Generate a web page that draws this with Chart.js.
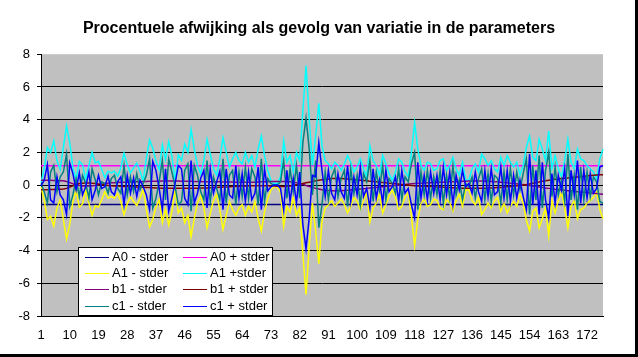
<!DOCTYPE html>
<html>
<head>
<meta charset="utf-8">
<script src="https://cdn.jsdelivr.net/npm/chart.js@4"></script>
<style>
html,body{margin:0;padding:0;background:#fff;}
canvas{display:block;}
</style>
</head>
<body>
<canvas id="c" width="638" height="357" style="width:638px;height:357px"></canvas>
<script>
const categories = Array.from({length: 177}, (_, i) => String(i + 1));
const yTicks = [-8, -6, -4, -2, 0, 2, 4, 6, 8];
const seriesNames = ["A0 - stder", "A0 + stder", "A1 - stder", "A1 +stder", "b1 - stder", "b1 + stder", "c1 - stder", "c1 + stder"];

const a0Minus = [
-1.18,-1.18,-1.18,-1.18,-1.18,-1.18,-1.18,-1.18,-1.18,-1.18,-1.18,-1.18,-1.18,-1.18,-1.18,-1.18,-1.18,-1.18,-1.18,-1.18,
-1.18,-1.18,-1.18,-1.18,-1.18,-1.18,-1.18,-1.18,-1.18,-1.18,-1.18,-1.18,-1.18,-1.18,-1.18,-1.18,-1.18,-1.18,-1.18,-1.18,
-1.18,-1.18,-1.18,-1.18,-1.18,-1.18,-1.18,-1.18,-1.18,-1.18,-1.18,-1.18,-1.18,-1.18,-1.18,-1.18,-1.18,-1.18,-1.18,-1.18,
-1.18,-1.18,-1.18,-1.18,-1.18,-1.18,-1.18,-1.18,-1.18,-1.18,-1.18,-1.18,-1.18,-1.18,-1.18,-1.18,-1.18,-1.18,-1.18,-1.18,
-1.18,-1.18,-1.18,-1.18,-1.18,-1.18,-1.18,-1.18,-1.18,-1.18,-1.18,-1.18,-1.18,-1.18,-1.18,-1.18,-1.18,-1.18,-1.18,-1.18,
-1.18,-1.18,-1.18,-1.18,-1.18,-1.18,-1.18,-1.18,-1.18,-1.18,-1.18,-1.18,-1.18,-1.18,-1.18,-1.18,-1.18,-1.18,-1.18,-1.18,
-1.18,-1.18,-1.18,-1.18,-1.18,-1.18,-1.18,-1.18,-1.18,-1.18,-1.18,-1.18,-1.18,-1.18,-1.18,-1.18,-1.18,-1.18,-1.18,-1.18,
-1.18,-1.18,-1.18,-1.18,-1.18,-1.18,-1.18,-1.18,-1.18,-1.18,-1.18,-1.18,-1.18,-1.18,-1.18,-1.18,-1.18,-1.18,-1.18,-1.18,
-1.18,-1.18,-1.18,-1.18,-1.18,-1.18,-1.18,-1.18,-1.18,-1.18,-1.18,-1.18,-1.18,-1.18,-1.18,-1.18,-1.18
];
const a0Plus = [
1.18,1.18,1.18,1.18,1.18,1.18,1.18,1.18,1.18,1.18,1.18,1.18,1.18,1.18,1.18,1.18,1.18,1.18,1.18,1.18,
1.18,1.18,1.18,1.18,1.18,1.18,1.18,1.18,1.18,1.18,1.18,1.18,1.18,1.18,1.18,1.18,1.18,1.18,1.18,1.18,
1.18,1.18,1.18,1.18,1.18,1.18,1.18,1.18,1.18,1.18,1.18,1.18,1.18,1.18,1.18,1.18,1.18,1.18,1.18,1.18,
1.18,1.18,1.18,1.18,1.18,1.18,1.18,1.18,1.18,1.18,1.18,1.18,1.18,1.18,1.18,1.18,1.18,1.18,1.18,1.18,
1.18,1.18,1.18,1.18,1.18,1.18,1.18,1.18,1.18,1.18,1.18,1.18,1.18,1.18,1.18,1.18,1.18,1.18,1.18,1.18,
1.18,1.18,1.18,1.18,1.18,1.18,1.18,1.18,1.18,1.18,1.18,1.18,1.18,1.18,1.18,1.18,1.18,1.18,1.18,1.18,
1.18,1.18,1.18,1.18,1.18,1.18,1.18,1.18,1.18,1.18,1.18,1.18,1.18,1.18,1.18,1.18,1.18,1.18,1.18,1.18,
1.18,1.18,1.18,1.18,1.18,1.18,1.18,1.18,1.18,1.18,1.18,1.18,1.18,1.18,1.18,1.18,1.18,1.18,1.18,1.18,
1.18,1.18,1.18,1.18,1.18,1.18,1.18,1.18,1.18,1.18,1.18,1.18,1.18,1.18,1.18,1.18,1.18
];
const a1Minus = [
-0.1,-0.9,-2.1,-1.9,-2.5,-1.4,-0.9,-2.1,-3.3,-2.4,-1.0,-0.3,-1.35,-1.15,-0.3,-1.1,-1.85,-1.25,-1.35,-0.9,-0.4,-0.8,-0.7,-0.8,-0.5,-1.0,-1.8,-1.15,-0.7,-1.0,-1.25,-0.8,-0.25,-1.5,-2.55,-2.1,-1.35,-0.9,-2.3,-1.45,-2.45,-1.6,-0.25,-1.7,
-1.4,-2.3,-1.85,-3.15,-2.05,-1.1,-0.65,-1.4,-2.6,-1.75,-0.95,-0.55,-1.5,-2.7,-1.85,-1.0,-1.5,-1.85,-1.4,-1.2,-1.85,-1.3,-1.65,-1.0,-2.05,-2.8,-1.65,-0.85,-0.3,-0.1,-0.1,-0.45,-2.5,-1.3,-1.65,-0.75,-1.85,-1.4,-4.2,-6.7,-3.7,-1.1,-2.8,-4.8,-2.2,
-1.4,-1.2,-0.95,-1.3,-1.1,-0.85,-1.2,-1.7,-1.3,-0.75,-1.0,-1.5,-0.95,-0.45,-2.25,-1.4,-1.1,-0.55,-1.7,-1.2,-0.65,-0.3,-0.75,-1.5,-1.3,-0.75,-0.45,-1.9,-3.7,-2.1,-1.1,-0.85,-1.3,-1.2,-0.85,-0.95,-1.4,-1.5,-0.85,-1.1,-1.6,-0.95,-0.55,-1.3,
-0.3,-0.3,-0.95,-1.2,-0.75,-1.8,-1.5,-1.1,-1.4,-0.95,-0.75,-1.6,-1.1,-1.7,-1.3,-1.0,-1.3,-0.55,-1.1,-2.15,-2.8,-1.6,-1.4,-2.6,-2.05,-1.4,-3.1,-0.95,-1.7,-0.95,-0.45,-1.4,-2.6,-1.3,-0.95,-2.05,-1.5,-1.4,-1.1,-0.95,-0.75,-0.4,-1.5,-2.05
];
const a1Plus = [
0.15,1.0,2.3,2.0,2.7,1.5,0.95,2.3,3.6,2.6,1.05,0.35,1.45,1.25,0.35,1.2,2.0,1.35,1.45,0.95,0.45,0.85,0.75,0.85,0.55,1.05,1.95,1.25,0.75,1.05,1.35,0.85,0.25,1.65,2.75,2.25,1.45,0.95,2.45,1.55,2.65,1.75,0.25,1.85,
1.5,2.5,2.0,3.4,2.2,1.2,0.7,1.5,2.8,1.9,1.0,0.6,1.6,2.9,2.0,1.1,1.6,2.0,1.5,1.3,2.0,1.4,1.8,1.1,2.2,3.0,1.8,0.9,0.3,0.1,0.1,0.5,2.7,1.4,1.8,0.8,2.0,1.5,4.5,7.3,4.0,1.2,3.0,5.0,2.4,
1.5,1.3,1.0,1.4,1.2,0.9,1.3,1.8,1.4,0.8,1.1,1.6,1.0,0.5,2.4,1.5,1.2,0.6,1.8,1.3,0.7,0.3,0.8,1.6,1.4,0.8,0.5,2.0,3.8,2.2,1.2,0.9,1.4,1.3,0.9,1.0,1.5,1.6,0.9,1.2,1.7,1.0,0.6,1.4,
0.3,0.3,1.0,1.3,0.8,1.9,1.6,1.2,1.5,1.0,0.8,1.7,1.2,1.8,1.4,1.1,1.4,0.6,1.2,2.3,3.0,1.7,1.5,2.8,2.2,1.5,3.3,1.0,1.8,1.0,0.5,1.5,2.8,1.4,1.0,2.2,1.6,1.5,1.2,1.0,0.8,0.4,1.6,2.2
];
const b1Minus = [
0.3,0.3,0.3,0.3,0.28,0.28,0.27,0.26,
0.22,0.15,0.08,0.02,
-0.03,-0.05,-0.05,-0.05,-0.04,-0.02,0.02,0.06,
0.1,0.12,0.14,0.15,0.16,0.17,0.18,0.18,0.19,0.2,0.2,0.21,0.22,0.22,0.23,0.23,0.24,0.24,0.25,0.25,0.25,0.25,0.25,0.25,
0.24,0.24,0.23,0.23,0.22,0.22,0.22,0.21,0.21,0.2,0.2,0.2,0.2,0.19,0.19,0.19,0.19,0.18,0.18,0.18,0.18,0.18,0.18,0.18,0.19,0.2,0.2,0.21,0.22,0.22,0.22,0.22,0.22,0.21,0.2,0.18,0.15,0.1,0.05,
-0.02,-0.08,-0.14,-0.2,-0.24,-0.28,-0.31,-0.33,-0.35,-0.35,-0.35,-0.34,-0.33,-0.32,-0.3,-0.28,-0.26,
-0.24,-0.22,-0.2,-0.18,-0.16,-0.14,-0.12,-0.1,-0.08,-0.06,-0.04,-0.02,0.0,0.02,0.04,0.06,0.08,0.1,
0.11,0.12,0.13,0.14,0.15,0.15,0.16,0.17,0.18,0.19,0.2,0.2,0.21,0.22,0.23,0.24,0.25,0.25,0.25,0.25,0.25,0.24,0.23,0.22,0.21,0.2,0.18,0.16,0.14,0.12,0.1,0.08,
0.05,0.03,0.0,-0.03,-0.06,-0.09,-0.12,-0.15,-0.18,-0.2,-0.22,-0.25,-0.27,-0.3,-0.32,-0.34,-0.36,-0.38,-0.4,-0.42,-0.44,-0.46,-0.48,-0.5,-0.52,-0.54,-0.56
];
const b1Plus = [
-0.28,-0.28,-0.28,-0.27,-0.27,-0.26,-0.25,-0.24,
-0.2,-0.12,-0.04,0.04,
0.1,0.12,0.13,0.13,0.12,0.1,0.07,0.03,
0.0,-0.02,-0.04,-0.05,-0.06,-0.07,-0.08,-0.09,-0.1,-0.1,-0.11,-0.12,-0.13,-0.14,-0.15,-0.16,-0.17,-0.18,-0.19,-0.2,-0.2,-0.2,-0.2,-0.2,
-0.2,-0.2,-0.2,-0.2,-0.19,-0.19,-0.18,-0.18,-0.17,-0.16,-0.15,-0.14,-0.13,-0.12,-0.11,-0.1,-0.09,-0.08,-0.07,-0.06,-0.05,-0.05,-0.04,-0.04,-0.04,-0.04,-0.04,-0.04,-0.05,-0.06,-0.07,-0.08,-0.08,-0.07,-0.05,-0.02,0.02,0.06,0.1,
0.14,0.18,0.22,0.26,0.3,0.33,0.36,0.38,0.4,0.41,0.41,0.4,0.39,0.38,0.36,0.34,0.32,
0.3,0.28,0.26,0.24,0.22,0.2,0.18,0.16,0.14,0.12,0.1,0.08,0.06,0.04,0.02,0.0,-0.02,-0.04,
-0.05,-0.06,-0.07,-0.08,-0.09,-0.1,-0.11,-0.12,-0.13,-0.14,-0.15,-0.16,-0.17,-0.18,-0.19,-0.2,-0.2,-0.2,-0.2,-0.2,-0.2,-0.19,-0.18,-0.17,-0.16,-0.15,-0.14,-0.12,-0.1,-0.08,-0.06,-0.04,
-0.02,0.0,0.03,0.07,0.11,0.15,0.19,0.23,0.27,0.3,0.33,0.36,0.38,0.4,0.42,0.44,0.46,0.48,0.5,0.52,0.54,0.56,0.58,0.6,0.62,0.63,0.64
];
const c1Minus = [
0.1,-0.4,-1.1,0.8,1.2,-0.4,0.5,0.8,1.9,-1.3,-0.6,0.4,-0.7,0.6,0.1,-0.8,1.0,0.3,-0.6,0.2,0.1,-0.5,0.4,0.6,-0.2,-0.5,1.2,-0.6,0.5,-0.4,0.7,-0.3,0.1,0.6,1.6,-1.4,-0.8,0.2,1.5,-0.9,1.6,0.8,-0.1,-1.2,
-1.0,0.9,1.3,-1.6,1.2,0.6,-0.4,-0.9,1.5,-1.0,0.5,-0.2,-0.9,1.6,-1.1,0.6,0.9,-1.2,0.8,-0.7,1.1,-0.8,1.0,0.5,-1.2,1.6,-1.0,0.4,0.1,0.0,0.0,0.2,1.5,-0.8,1.0,-0.4,1.2,-0.8,2.6,4.1,2.2,-0.6,1.5,-2.6,-1.2,
0.8,-0.9,0.5,1.0,-0.7,0.4,0.9,-1.3,1.0,-0.5,0.6,-1.2,0.7,0.2,1.5,-1.0,0.8,-0.3,1.2,-0.9,0.4,0.1,-0.5,1.0,-0.9,0.5,0.2,1.3,2.0,-1.5,0.8,-0.6,0.9,-0.8,0.5,-0.6,0.9,-1.1,0.6,-0.8,1.2,-0.6,0.3,-0.9,
0.1,-0.1,0.5,-0.8,0.4,1.0,-0.9,0.7,-1.0,0.6,0.4,-1.1,0.8,-0.9,1.0,-0.6,0.8,-0.3,0.7,1.6,-1.8,1.2,-0.9,1.8,-1.4,0.9,2.0,-0.7,1.1,-0.6,0.3,-1.0,1.9,-0.9,0.6,-1.5,1.1,-0.9,0.8,-0.7,0.5,0.2,-1.0,-1.1
];
const c1Plus = [
-0.05,0.3,1.25,-0.9,-1.1,0.5,-0.6,-0.9,-1.8,1.35,0.7,-0.3,0.75,-0.6,-0.1,0.8,-0.9,-0.3,0.6,-0.2,-0.1,0.55,-0.4,-0.6,0.2,0.5,-1.2,0.6,-0.5,0.45,-0.7,0.3,-0.1,-0.6,-1.5,1.45,0.9,-0.2,-1.5,1.0,-1.6,-0.8,0.1,1.2,
1.0,-0.8,-1.2,1.5,-1.1,-0.5,0.4,0.9,-1.4,1.0,-0.5,0.2,0.85,-1.5,1.0,-0.6,-0.8,1.2,-0.8,0.7,-1.0,0.8,-0.9,-0.5,1.1,-1.5,1.0,-0.35,-0.1,0.0,0.0,-0.2,-1.5,0.9,-1.0,0.4,-1.1,0.8,-2.4,-3.9,-2.0,0.6,0.5,2.6,0.9,
-0.7,0.9,-0.5,-0.9,0.7,-0.4,-0.8,1.2,-1.0,0.5,-0.6,1.1,-0.7,-0.2,-1.4,1.0,-0.8,0.3,-1.1,0.9,-0.4,-0.1,0.5,-1.0,0.9,-0.5,-0.2,-1.2,-2.0,1.4,-0.8,0.6,-0.9,0.8,-0.5,0.6,-0.9,1.1,-0.6,0.8,-1.2,0.6,-0.3,0.9,
-0.1,0.1,-0.5,0.8,-0.4,-1.0,0.9,-0.7,1.0,-0.6,-0.4,1.1,-0.8,0.9,-1.0,0.6,-0.8,0.3,-0.7,-1.5,1.9,-1.2,0.9,-1.8,1.4,-0.9,-2.0,0.7,-1.1,0.6,-0.3,1.0,-1.9,0.9,-0.6,1.5,-1.1,0.9,-0.8,0.7,-0.5,-0.2,1.1,1.2
];

const seriesData = [a0Minus, a0Plus, a1Minus, a1Plus, b1Minus, b1Plus, c1Minus, c1Plus];
const seriesColors = ["#000080", "#FF00FF", "#FFFF00", "#00FFFF", "#800080", "#800000", "#008080", "#0000FF"];

const FONT = "'Liberation Sans', Arial, sans-serif";

const bgPlugin = {
  id: 'bg',
  beforeDraw(chart) {
    const ctx = chart.ctx, a = chart.chartArea;
    ctx.save();
    ctx.fillStyle = '#ffffff';
    ctx.fillRect(0, 0, chart.width, chart.height);
    ctx.fillStyle = '#C0C0C0';
    ctx.fillRect(a.left, a.top, a.right - a.left, a.bottom - a.top);
    ctx.restore();
  },
  afterDraw(chart) {
    const ctx = chart.ctx;
    ctx.save();
    ctx.fillStyle = '#000';
    ctx.fillRect(chart.width - 3, 0, 3, chart.height);
    ctx.fillRect(0, chart.height - 3, chart.width, 3);
    ctx.restore();
  }
};

const legendPlugin = {
  id: 'boxLegend',
  afterDatasetsDraw(chart) {
    const ctx = chart.ctx;
    const bx = 78, by = 247, bw = 195, bh = 69;
    ctx.save();
    ctx.fillStyle = '#fff';
    ctx.fillRect(bx, by, bw, bh);
    ctx.strokeStyle = '#000';
    ctx.lineWidth = 1;
    ctx.strokeRect(bx + 0.5, by + 0.5, bw - 1, bh - 1);
    ctx.font = "13px " + FONT;
    ctx.textBaseline = 'middle';
    ctx.textAlign = 'left';
    chart.data.datasets.forEach((ds, i) => {
      const row = Math.floor(i / 2), col = i % 2;
      const y = Math.round(256.5 + row * 16.4) + 0.5;
      const x0 = col === 0 ? 85 : 183;
      ctx.strokeStyle = ds.borderColor;
      ctx.lineWidth = 1;
      ctx.beginPath();
      ctx.moveTo(x0, y);
      ctx.lineTo(x0 + 24, y);
      ctx.stroke();
      ctx.fillStyle = '#000';
      ctx.fillText(ds.label, x0 + 27, y);
    });
    ctx.restore();
  }
};

new Chart(document.getElementById('c'), {
  type: 'line',
  data: {
    labels: categories,
    datasets: seriesData.map((d, i) => ({
      label: seriesNames[i],
      data: d,
      borderColor: seriesColors[i],
      backgroundColor: seriesColors[i],
      borderWidth: 1.5,
      pointRadius: 0,
      tension: 0,
      fill: false,
      order: seriesData.length - i
    }))
  },
  options: {
    responsive: false,
    animation: false,
    devicePixelRatio: 1,
    layout: { padding: { left: 0, right: 0, top: 0, bottom: 0 } },
    plugins: {
      legend: { display: false },
      tooltip: { enabled: false },
      title: {
        display: true,
        text: 'Procentuele afwijking als gevolg van variatie in de parameters',
        color: '#000',
        font: { family: FONT, size: 16, weight: 'bold' },
        padding: { top: 19, bottom: 16 }
      }
    },
    scales: {
      x: {
        type: 'category',
        offset: false,
        grid: { display: false, drawTicks: false },
        border: { display: true, color: '#000', width: 1 },
        ticks: {
          autoSkip: false, maxRotation: 0, minRotation: 0, padding: 12,
          color: '#000', font: { family: FONT, size: 13 },
          callback: function (v, i) { return i % 9 === 0 ? categories[i] : ''; }
        },
        afterFit: s => { s.height = 41; }
      },
      y: {
        min: -8, max: 8,
        afterBuildTicks: s => { s.ticks = yTicks.map(v => ({ value: v })); },
        ticks: { padding: 7, color: '#000', font: { family: FONT, size: 13 } },
        grid: {
          color: ctx => (ctx.tick && ctx.tick.value === 8) ? 'rgba(0,0,0,0)' : '#000',
          tickColor: '#000', tickLength: 4, drawTicks: true, lineWidth: 1
        },
        border: { display: true, color: '#000', width: 1 },
        afterFit: s => { s.width = 41; }
      },
      yRight: {
        type: 'linear',
        position: 'right',
        display: true,
        grid: { display: false, drawTicks: false },
        border: { display: false },
        ticks: { display: false },
        afterFit: s => { s.width = 35; }
      }
    }
  },
  plugins: [bgPlugin, legendPlugin]
});
</script>
</body>
</html>
